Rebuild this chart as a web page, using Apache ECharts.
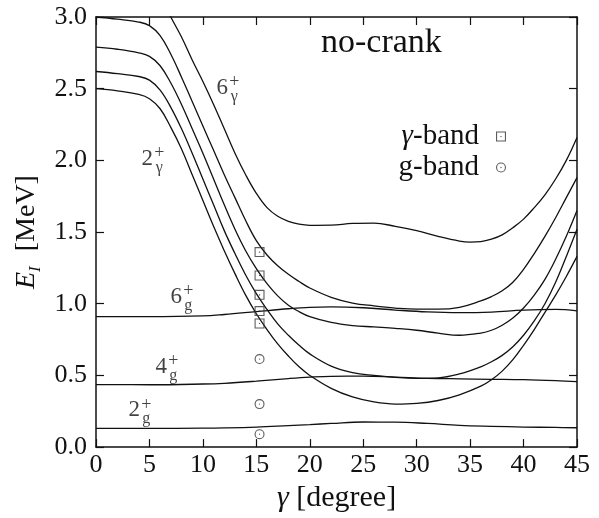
<!DOCTYPE html>
<html>
<head>
<meta charset="utf-8">
<script src="https://cdn.jsdelivr.net/npm/echarts@6/dist/echarts.min.js"></script>
<style>
html,body{margin:0;padding:0;background:#fff;}
#chart{width:599px;height:518px;}
</style>
</head>
<body>
<div id="chart"></div>
<script>
// ---------------- data ----------------
const xTicks = [0, 5, 10, 15, 20, 25, 30, 35, 40, 45];
const yTicks = [0.0, 0.5, 1.0, 1.5, 2.0, 2.5, 3.0];

// gamma-band curves (common x grid)
const gammaX = [0,2,4,5,6,7,8,9,10,11,12,13,14,15,16,17,18,19,20,22,24,26,28,30,32,34,36,37,38,39,40,41,42,43,44,45];
const band2g = [2.50,2.485,2.46,2.43,2.36,2.23,2.08,1.90,1.72,1.54,1.37,1.21,1.06,0.93,0.82,0.72,0.635,0.56,0.50,0.41,0.35,0.315,0.30,0.305,0.325,0.365,0.425,0.47,0.53,0.61,0.71,0.82,0.94,1.06,1.19,1.33];
const band3g = [2.62,2.605,2.585,2.56,2.49,2.37,2.22,2.05,1.87,1.69,1.51,1.35,1.20,1.07,0.96,0.86,0.78,0.71,0.65,0.565,0.52,0.50,0.487,0.48,0.483,0.51,0.56,0.595,0.64,0.70,0.78,0.88,1.00,1.15,1.33,1.52];
const band4g = [2.79,2.775,2.75,2.725,2.66,2.54,2.39,2.22,2.05,1.87,1.69,1.52,1.37,1.245,1.14,1.055,0.99,0.945,0.91,0.87,0.848,0.838,0.828,0.815,0.795,0.78,0.795,0.815,0.85,0.90,0.97,1.06,1.17,1.31,1.47,1.65];
const band5g = [3.0,2.985,2.965,2.94,2.87,2.74,2.58,2.41,2.24,2.07,1.90,1.74,1.58,1.44,1.34,1.265,1.205,1.155,1.11,1.045,1.005,0.985,0.97,0.962,0.962,0.975,1.02,1.05,1.09,1.15,1.24,1.35,1.47,1.60,1.74,1.88];
// 6_gamma curve (enters from above the frame)
const band6gX = [6.5,7,8,9,10,11,12,13,14,15,16,17,18,19,20,22,24,26,28,30,32,34,35,36,37,38,39,40,41,42,43,44,45];
const band6g = [3.08,3.0,2.86,2.70,2.55,2.39,2.22,2.05,1.90,1.77,1.67,1.61,1.575,1.555,1.547,1.548,1.56,1.562,1.54,1.51,1.47,1.437,1.43,1.433,1.45,1.48,1.53,1.59,1.67,1.76,1.87,2.00,2.16];

// ground-band curves
const groundX = [0,5,10,12,15,18,20,22,25,28,31,34,37,40,43,45];
const ground6 = [0.91,0.91,0.915,0.925,0.945,0.965,0.975,0.978,0.972,0.956,0.943,0.938,0.942,0.955,0.960,0.950];
const ground4 = [0.436,0.435,0.44,0.445,0.46,0.478,0.488,0.494,0.495,0.488,0.48,0.476,0.473,0.47,0.463,0.456];
const ground2 = [0.13,0.13,0.132,0.134,0.14,0.15,0.157,0.165,0.175,0.174,0.165,0.152,0.145,0.14,0.137,0.135];

// experimental points
const expX = 15.3;
const expGammaBand = [0.862, 0.949, 1.062, 1.197, 1.36];
const expGroundBand = [0.09, 0.30, 0.614];

// state labels: [x, y, spin, band]
const stateLabels = [
  [11.81, 2.507, '6', 'γ'],
  [4.80, 2.012, '2', 'γ'],
  [7.51, 1.05, '6', 'g'],
  [6.11, 0.562, '4', 'g'],
  [3.58, 0.257, '2', 'g']
];

// ---------------- chart ----------------
const FONT = 'Liberation Serif';
const INK = '#111';
const pairs = (xs, ys) => xs.map((x, i) => [x, ys[i]]);

const SQ_PATH = 'path://M0,0H10V10H0Z M1.1,1.1V8.9H8.9V1.1Z M4.4,4.4H5.6V5.6H4.4Z';
const CI_PATH = 'path://M5,0A5,5 0 1,1 5,10A5,5 0 1,1 5,0Z M5,1.1A3.9,3.9 0 1,0 5,8.9A3.9,3.9 0 1,0 5,1.1Z M5,4.35A0.65,0.65 0 1,1 5,5.65A0.65,0.65 0 1,1 5,4.35Z';

function curve(name, xs, ys) {
  return {
    name: name, type: 'line', data: pairs(xs, ys), smooth: 0.4,
    showSymbol: false, symbol: 'none', clip: true,
    lineStyle: { color: INK, width: 1.3 }, z: 3, silent: true
  };
}

const axisLineStyle = { color: INK, width: 1.5 };
const tickStyle = { inside: true, length: 8, lineStyle: { color: INK, width: 1.2 } };

const option = {
  animation: false,
  backgroundColor: '#fff',
  grid: { left: 96, right: 22, top: 17, bottom: 58 },
  xAxis: [
    {
      type: 'value', min: xTicks[0], max: xTicks[xTicks.length - 1], interval: 5,
      axisLine: { onZero: false, lineStyle: axisLineStyle },
      axisTick: tickStyle,
      splitLine: { show: false },
      axisLabel: { fontFamily: FONT, fontSize: 26, color: INK, margin: 5, showMinLabel: true, showMaxLabel: true },
      name: '{i|γ}{t| [degree]}', nameLocation: 'middle', nameGap: 23,
      nameTextStyle: {
        fontFamily: FONT, fontSize: 30, color: INK,
        rich: { i: { fontFamily: FONT, fontSize: 30, fontStyle: 'italic', color: INK }, t: { fontFamily: FONT, fontSize: 30, color: INK } }
      }
    },
    {
      type: 'value', position: 'top', min: xTicks[0], max: xTicks[xTicks.length - 1], interval: 5,
      axisLine: { onZero: false, lineStyle: axisLineStyle },
      axisTick: tickStyle, axisLabel: { show: false }, splitLine: { show: false }
    }
  ],
  yAxis: [
    {
      type: 'value', min: yTicks[0], max: yTicks[yTicks.length - 1], interval: 0.5,
      axisLine: { onZero: false, lineStyle: axisLineStyle },
      axisTick: tickStyle,
      splitLine: { show: false },
      axisLabel: { fontFamily: FONT, fontSize: 26, color: INK, margin: 9, formatter: v => v.toFixed(1) },
      name: '{e|E}{s|I}{t|[MeV]}', nameLocation: 'middle', nameGap: 50, nameRotate: 90,
      nameTextStyle: {
        fontFamily: FONT, fontSize: 27, color: INK,
        rich: {
          e: { fontFamily: FONT, fontSize: 28, fontStyle: 'italic', color: INK, verticalAlign: 'top', lineHeight: 28 },
          s: { fontFamily: FONT, fontSize: 17, fontStyle: 'italic', color: INK, verticalAlign: 'bottom', lineHeight: 31 },
          t: { fontFamily: FONT, fontSize: 28, color: INK, verticalAlign: 'top', lineHeight: 28, padding: [0, 0, 0, 15] }
        }
      }
    },
    {
      type: 'value', position: 'right', min: yTicks[0], max: yTicks[yTicks.length - 1], interval: 0.5,
      axisLine: { onZero: false, lineStyle: axisLineStyle },
      axisTick: tickStyle, axisLabel: { show: false }, splitLine: { show: false }
    }
  ],
  legend: {
    data: ['γ-band', 'g-band'],
    orient: 'vertical', align: 'right',
    right: 93, top: 122, padding: 0, itemGap: 2,
    itemWidth: 10, itemHeight: 10,
    selectedMode: false,
    formatter: n => n === 'γ-band' ? '{i|γ}{t|-band}' : '{t|g-band}',
    textStyle: {
      fontFamily: FONT, fontSize: 29, color: INK, lineHeight: 26,
      rich: {
        i: { fontFamily: FONT, fontSize: 29, fontStyle: 'italic', color: INK },
        t: { fontFamily: FONT, fontSize: 29, color: INK, padding: [0, 12, 0, 0] }
      }
    }
  },
  graphic: [
    { type: 'text', left: 321, top: 26, style: { text: 'no-crank', fontFamily: FONT, fontSize: 34, fill: INK } }
  ],
  series: [
    curve('2γ', gammaX, band2g),
    curve('3γ', gammaX, band3g),
    curve('4γ', gammaX, band4g),
    curve('5γ', gammaX, band5g),
    curve('6γ', band6gX, band6g),
    curve('6g', groundX, ground6),
    curve('4g', groundX, ground4),
    curve('2g', groundX, ground2),
    {
      name: 'γ-band', type: 'scatter', data: expGammaBand.map(y => [expX, y]),
      symbol: SQ_PATH, symbolSize: 10, itemStyle: { color: '#333' }, z: 5
    },
    {
      name: 'g-band', type: 'scatter', data: expGroundBand.map(y => [expX, y]),
      symbol: CI_PATH, symbolSize: 10, itemStyle: { color: '#333' }, z: 5
    },
    {
      name: 'labelsDigits', type: 'scatter', symbolSize: 0, silent: true,
      data: stateLabels.map(s => ({ value: [s[0], s[1]], name: s[2] })),
      label: {
        show: true, position: 'inside', formatter: p => p.name,
        fontFamily: FONT, fontSize: 23, color: INK
      }
    },
    {
      name: 'labelsScripts', type: 'scatter', symbolSize: 0, silent: true,
      data: stateLabels.map(s => ({ value: [s[0], s[1]], name: s[3] })),
      label: {
        show: true, position: 'inside', offset: [12, 2],
        formatter: p => '{p|+}\n{s|' + p.name + '}',
        rich: {
          p: { fontFamily: FONT, fontSize: 18, color: INK, lineHeight: 14, align: 'center' },
          s: { fontFamily: FONT, fontSize: 16, color: INK, lineHeight: 14, align: 'center' }
        }
      }
    }
  ]
};
const chart = echarts.init(document.getElementById('chart'), null, { renderer: 'canvas' });
chart.setOption(option);
</script>
</body>
</html>
